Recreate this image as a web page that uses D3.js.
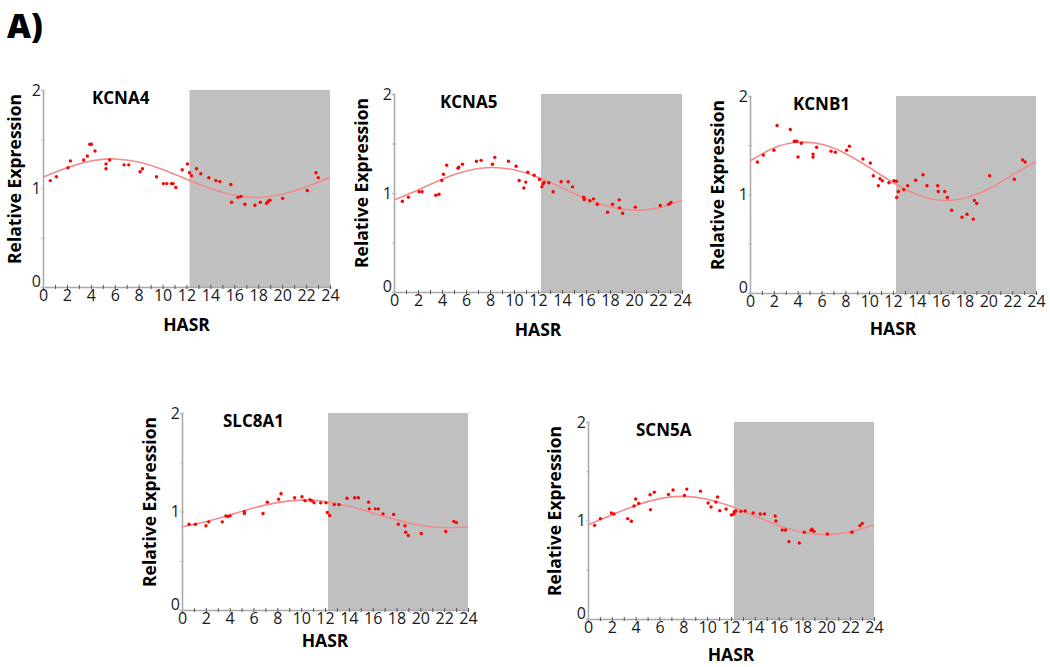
<!DOCTYPE html>
<html><head><meta charset="utf-8">
<script src="https://cdn.jsdelivr.net/npm/d3@7"></script>
<style>body{margin:0;background:#fff} svg{display:block}</style>
</head><body>
<svg id="c" width="1050" height="667"></svg>
<script>
// ---------------- DATA ----------------
const genes = ["KCNA4", "KCNA5", "KCNB1", "SLC8A1", "SCN5A"];
const xTickLabels = [0, 2, 4, 6, 8, 10, 12, 14, 16, 18, 20, 22, 24];
const yTickLabels = [0, 1, 2];
const darkPhase = [12.25, 24];          // shaded interval (HASR)
const curveHours = [0, 2, 4, 6, 8, 10, 12, 14, 16, 18, 20, 22, 24];

const kcna4Points = [[0.61,1.08],[1.12,1.12],[2.09,1.21],[2.29,1.28],[3.40,1.29],[3.71,1.33],[3.91,1.45],[4.05,1.45],[4.35,1.38],[5.27,1.25],[5.27,1.20],[5.58,1.29],[6.78,1.24],[7.17,1.24],[8.12,1.17],[8.32,1.20],[9.49,1.12],[10.07,1.05],[10.35,1.05],[10.74,1.05],[10.88,1.05],[11.11,1.01],[11.64,1.19],[12.08,1.25],[12.25,1.16],[12.42,1.13],[12.84,1.20],[13.20,1.15],[13.87,1.11],[14.46,1.08],[14.79,1.07],[15.71,1.04],[15.77,0.86],[16.30,0.91],[16.55,0.92],[16.88,0.84],[17.72,0.83],[18.17,0.86],[18.70,0.85],[18.84,0.87],[18.98,0.88],[20.04,0.90],[22.10,0.98],[22.83,1.16],[23.02,1.11]];
const kcna5Points = [[0.70,0.917],[1.20,0.958],[2.09,1.012],[2.34,1.012],[3.48,0.978],[3.75,0.988],[3.98,1.126],[4.12,1.19],[4.39,1.28],[5.34,1.25],[5.39,1.26],[5.70,1.29],[6.87,1.32],[7.26,1.33],[8.20,1.29],[8.40,1.36],[9.54,1.32],[10.18,1.27],[10.43,1.126],[10.82,1.05],[10.98,1.11],[11.15,1.21],[11.68,1.18],[12.12,1.137],[12.32,1.062],[12.40,1.09],[12.51,1.106],[12.90,1.103],[13.26,1.012],[13.93,1.113],[14.52,1.113],[14.88,1.062],[15.80,0.958],[15.85,0.934],[16.32,0.921],[16.63,0.941],[16.94,0.887],[17.80,0.806],[18.21,0.887],[18.77,0.931],[18.80,0.850],[19.05,0.796],[20.11,0.857],[22.19,0.874],[22.89,0.887],[23.08,0.904]];
const kcnb1Points = [[0.62,1.33],[1.12,1.40],[2.01,1.45],[2.27,1.70],[3.38,1.66],[3.72,1.54],[3.92,1.54],[4.03,1.38],[4.31,1.52],[5.29,1.41],[5.29,1.38],[5.59,1.48],[6.80,1.44],[7.16,1.43],[8.11,1.45],[8.34,1.49],[9.48,1.36],[10.10,1.32],[10.35,1.19],[10.77,1.09],[10.91,1.16],[11.10,1.14],[11.66,1.12],[12.08,1.14],[12.28,1.135],[12.31,0.97],[12.45,1.03],[12.90,1.05],[13.23,1.09],[13.90,1.145],[14.52,1.20],[14.85,1.09],[15.75,1.09],[15.80,1.03],[16.34,1.03],[16.56,0.97],[16.92,0.84],[17.79,0.77],[18.21,0.80],[18.74,0.75],[18.83,0.94],[19.02,0.91],[20.11,1.19],[22.18,1.155],[22.88,1.35],[23.08,1.33]];
const slc8a1Points = [[0.59,0.87],[1.12,0.87],[2.01,0.855],[2.24,0.895],[3.38,0.895],[3.69,0.956],[3.86,0.95],[4.03,0.956],[5.23,0.997],[5.23,0.98],[6.80,0.98],[7.16,1.095],[8.11,1.125],[8.31,1.18],[9.45,1.14],[10.07,1.15],[10.32,1.11],[10.74,1.12],[10.88,1.11],[11.08,1.09],[11.64,1.088],[12.08,1.088],[12.20,0.99],[12.39,0.96],[12.78,1.07],[13.17,1.07],[13.85,1.135],[14.49,1.14],[14.80,1.14],[15.66,1.095],[15.72,1.027],[16.22,1.027],[16.48,1.027],[16.87,0.976],[17.76,0.97],[18.15,0.87],[18.71,0.855],[18.77,0.79],[18.99,0.757],[20.08,0.777],[22.13,0.797],[22.80,0.90],[23.02,0.888]];
const scn5aPoints = [[0.56,0.951],[1.04,1.019],[1.96,1.076],[2.18,1.066],[3.33,1.019],[3.64,0.992],[3.86,1.147],[4.00,1.218],[4.26,1.174],[5.21,1.261],[5.24,1.11],[5.57,1.288],[6.75,1.265],[7.14,1.309],[8.09,1.255],[8.29,1.319],[9.44,1.298],[10.08,1.177],[10.33,1.137],[10.73,1.187],[10.87,1.238],[11.06,1.10],[11.59,1.116],[12.04,1.056],[12.24,1.066],[12.27,1.089],[12.41,1.096],[12.83,1.093],[13.19,1.096],[13.86,1.076],[14.45,1.066],[14.81,1.066],[15.71,1.046],[15.77,0.995],[16.30,0.904],[16.58,0.904],[16.86,0.786],[17.73,0.772],[18.15,0.880],[18.71,0.900],[18.79,0.911],[18.96,0.890],[20.08,0.863],[22.15,0.880],[22.82,0.948],[23.02,0.971]];

// fitted curve at curveHours
const kcna4Curve  = [1.115,1.211,1.279,1.300,1.269,1.194,1.095,0.999,0.931,0.910,0.941,1.016,1.115];
const kcna5Curve  = [0.930,1.031,1.140,1.223,1.258,1.234,1.160,1.053,0.944,0.861,0.826,0.850,0.930];
const kcnb1Curve  = [1.340,1.472,1.530,1.510,1.417,1.275,1.122,1.000,0.942,0.962,1.055,1.197,1.335];
const slc8a1Curve = [0.845,0.896,0.964,1.035,1.090,1.115,1.101,1.054,0.986,0.915,0.860,0.835,0.845];
const scn5aCurve  = [0.958,1.056,1.152,1.222,1.245,1.216,1.144,1.046,0.950,0.880,0.857,0.886,0.958];

const pointSets = [kcna4Points, kcna5Points, kcnb1Points, slc8a1Points, scn5aPoints];
const curveSets = [kcna4Curve, kcna5Curve, kcnb1Curve, slc8a1Curve, scn5aCurve];

// ---------------- LAYOUT ----------------
const layout = [
  {x:43,  y:90,  w:287, h:197, xl:38, yl:-28.5, tx:49},
  {x:394, y:94,  w:288, h:198, xl:38, yl:-32.5, tx:46},
  {x:750, y:96,  w:286, h:197, xl:36, yl:-32.5, tx:43},
  {x:182, y:413, w:286, h:197, xl:31, yl:-32.5, tx:41},
  {x:588, y:422, w:286, h:197, xl:36, yl:-33.5, tx:48}
];
const FONT = "'Open Sans', Lato, sans-serif";
const axisColor = "#a9a9a9";

const svg = d3.select("#c");
svg.append("text").attr("x", 7).attr("y", 38)
  .attr("font-family", FONT).attr("font-weight", 800).attr("font-size", 33)
  .attr("fill", "#000").text("A)");

genes.forEach((g, i) => {
  const L = layout[i];
  const x = d3.scaleLinear().domain([0, 24]).range([0, L.w]);
  const y = d3.scaleLinear().domain([0, 2]).range([L.h, 0]);
  const p = svg.append("g").attr("transform", `translate(${L.x},${L.y})`);

  // shaded dark phase
  p.append("rect")
    .attr("x", x(darkPhase[0])).attr("y", y(2))
    .attr("width", x(darkPhase[1]) - x(darkPhase[0]))
    .attr("height", y(0) - y(2))
    .attr("fill", "#c0c0c0");

  // x axis
  const xa = p.append("g").attr("transform", `translate(0,${L.h})`)
    .call(d3.axisBottom(x).tickValues(d3.range(0, 25, 1)).tickSize(2).tickFormat(() => ""));
  xa.select(".domain").attr("stroke", axisColor).attr("stroke-width", 1.5);
  xa.selectAll(".tick line").attr("stroke", "#555").attr("y1", -2).attr("y2", 2);
  const xl = p.append("g").attr("transform", `translate(0,${L.h})`)
    .call(d3.axisBottom(x).tickValues(xTickLabels).tickSize(0).tickPadding(3));
  xl.select(".domain").remove();
  xl.selectAll("text").attr("font-family", FONT).attr("font-size", 16).attr("fill", "#1a1a1a");

  // y axis
  const ya = p.append("g")
    .call(d3.axisLeft(y).tickValues([0, 0.5, 1, 1.5, 2]).tickSize(2).tickFormat(() => ""));
  ya.select(".domain").attr("stroke", axisColor).attr("stroke-width", 1.5);
  ya.selectAll(".tick line").attr("stroke", "#bbb").attr("x1", -2).attr("x2", 2);
  const yl = p.append("g")
    .call(d3.axisLeft(y).tickValues(yTickLabels).tickSize(0).tickPadding(2).tickFormat(d3.format("d")));
  yl.select(".domain").remove();
  yl.selectAll("text").attr("font-family", FONT).attr("font-size", 16).attr("fill", "#1a1a1a")
    .attr("dy", d => d === 0 ? "-0.05em" : "0.32em");

  // fitted curve
  const line = d3.line().x(d => x(d[0])).y(d => y(d[1])).curve(d3.curveNatural);
  p.append("path")
    .datum(curveHours.map((h, k) => [h, curveSets[i][k]]))
    .attr("d", line).attr("fill", "none")
    .attr("stroke", "#f08c8c").attr("stroke-width", 1.6);

  // points
  p.selectAll("circle.pt").data(pointSets[i]).join("circle")
    .attr("class", "pt")
    .attr("cx", d => x(d[0])).attr("cy", d => y(d[1]))
    .attr("r", 1.7).attr("fill", "#ff0000");

  // title
  p.append("text").attr("x", L.tx).attr("y", 8.5).attr("dy", "0.35em")
    .attr("font-family", FONT).attr("font-weight", 700).attr("font-size", 17)
    .attr("fill", "#000").text(g);

  // axis titles
  p.append("text").attr("x", L.w / 2).attr("y", L.h + L.xl).attr("dy", "0.35em")
    .attr("text-anchor", "middle")
    .attr("font-family", FONT).attr("font-weight", 700).attr("font-size", 17.5)
    .attr("fill", "#000").text("HASR");
  p.append("text")
    .attr("transform", `translate(${L.yl},89) rotate(-90)`)
    .attr("dy", "0.35em").attr("text-anchor", "middle")
    .attr("font-family", FONT).attr("font-weight", 700).attr("font-size", 17.5)
    .attr("fill", "#000").text("Relative Expression");
});
</script>
</body></html>
